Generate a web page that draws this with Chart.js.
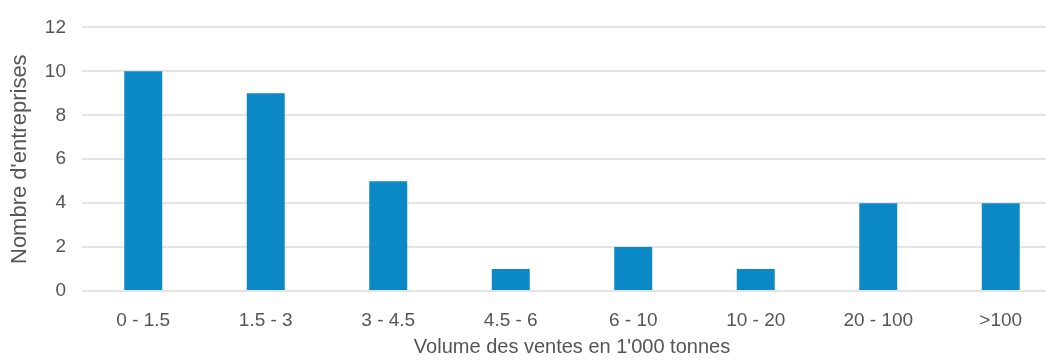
<!DOCTYPE html>
<html>
<head>
<meta charset="utf-8">
<script src="https://cdn.jsdelivr.net/npm/chart.js@4"></script>
<style>
  html, body { margin: 0; padding: 0; background: #fff; overflow: hidden; }
  #wrap { width: 1062px; height: 361px; }
</style>
</head>
<body>
<div id="wrap"><canvas id="chart"></canvas></div>
<script>
// Sales volume classes (1'000 tonnes) and number of companies
const categories = ['0 - 1.5', '1.5 - 3', '3 - 4.5', '4.5 - 6', '6 - 10', '10 - 20', '20 - 100', '>100'];
const companies = [10, 9, 5, 1, 2, 1, 4, 4];
const yTicks = [0, 2, 4, 6, 8, 10, 12];

const textColor = '#555555';
const family = 'Arial, "Liberation Sans", sans-serif';

new Chart(document.getElementById('chart'), {
    type: 'bar',
    data: {
        labels: categories,
        datasets: [{
            data: companies,
            backgroundColor: '#0a89c6',
            barPercentage: 0.62,
            categoryPercentage: 0.5
        }]
    },
    options: {
        responsive: true,
        maintainAspectRatio: false,
        animation: false,
        layout: { padding: { top: 20, right: 0, bottom: 0, left: 0 } },
        plugins: { legend: { display: false }, tooltip: { enabled: false } },
        scales: {
            x: {
                grid: { display: false },
                border: { display: false },
                ticks: { color: textColor, font: { family: family, size: 19 }, padding: 10 },
                title: {
                    display: true,
                    text: "Volume des ventes en 1'000 tonnes",
                    color: textColor,
                    font: { family: family, size: 20 },
                    padding: { top: 2, bottom: 2 }
                },
                afterFit: scale => { scale.height = 70; }
            },
            y: {
                min: 0,
                max: 12,
                afterBuildTicks: scale => { scale.ticks = yTicks.map(v => ({ value: v })); },
                grid: { color: '#e4e4e4', lineWidth: 2, drawTicks: false },
                border: { display: false },
                ticks: { color: textColor, font: { family: family, size: 19 }, padding: 16 },
                title: {
                    display: true,
                    text: "Nombre d'entreprises",
                    color: textColor,
                    font: { family: family, size: 22 },
                    padding: { top: 7, bottom: 7 }
                },
                afterFit: scale => { scale.width = 82; }
            }
        }
    }
});
</script>
</body>
</html>
